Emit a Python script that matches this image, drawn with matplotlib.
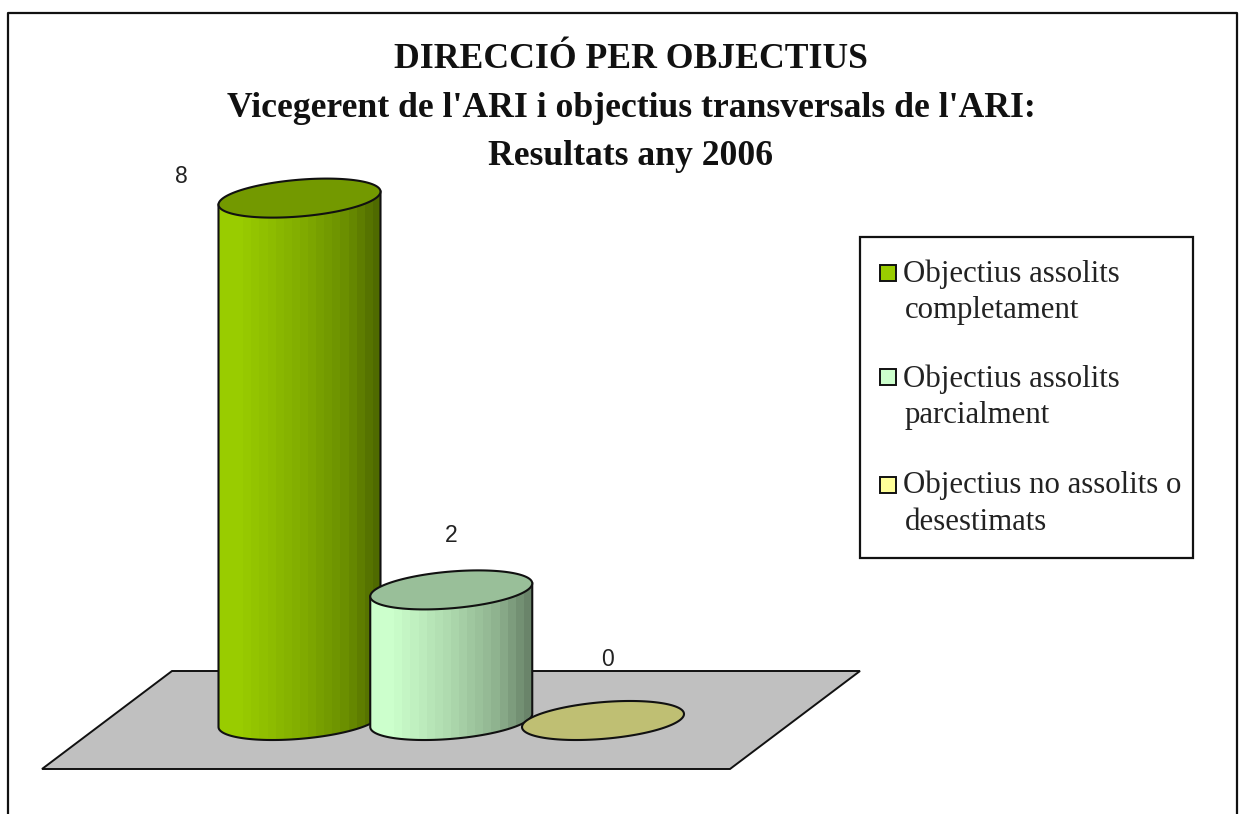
import numpy as np
import matplotlib
matplotlib.use("Agg")
import matplotlib.pyplot as plt
from matplotlib.path import Path
from matplotlib.patches import PathPatch, Polygon, Rectangle

CATEGORIES = [
    "Objectius assolits\ncompletament",
    "Objectius assolits\nparcialment",
    "Objectius no assolits o\ndesestimats",
]
VALUES = [8, 2, 0]
COLORS = ["#99CC00", "#CCFFCC", "#FFFF99"]
TITLE_LINES = [
    "DIRECCIÓ PER OBJECTIUS",
    "Vicegerent de l'ARI i objectius transversals de l'ARI:",
    "Resultats any 2006",
]

W, H = 1239, 814
EDGE = "#111111"

# pixel position of category 0 / value 0, and pixels per unit
X0, DX = 299.5, 151.75
Y0, DY = 720.5, 65.3

# cylinder shape in axis units
RX = 81 / DX
RY = 18.4 / DY
TILT = 6.5 / DY


def ellipse_xy(i, v, t):
    return i + RX * np.cos(t), v + TILT * np.cos(t) + RY * np.sin(t)


def shade_colors(color):
    rgb = np.array(matplotlib.colors.to_rgb(color))
    pos = np.linspace(0, 1, 20)
    factor = np.interp(pos, [0, 0.12, 0.5, 0.8, 1], [1.0, 1.0, 0.85, 0.7, 0.52])
    return (factor[:, None] * rgb)[None, :, :]


def draw_cylinder(ax, i, v, color):
    lower = np.linspace(np.pi, 2 * np.pi, 80)
    xs, ys = ellipse_xy(i, 0, lower)
    x_top, y_top = ellipse_xy(i, v, np.array([2 * np.pi, np.pi]))
    verts = np.column_stack([np.r_[xs, x_top, xs[0]], np.r_[ys, y_top, ys[0]]])
    body = Path(verts, closed=True)

    if v > 0:
        im = ax.imshow(
            shade_colors(color),
            extent=(i - RX, i + RX, -1, v + 1),
            aspect="auto",
            interpolation="nearest",
            zorder=2 + i,
        )
        patch = PathPatch(body, facecolor="none", edgecolor=EDGE, linewidth=1.5, zorder=2 + i)
        ax.add_patch(patch)
        im.set_clip_path(patch)

    t = np.linspace(0, 2 * np.pi, 160)
    ex, ey = ellipse_xy(i, v, t)
    ax.add_patch(
        Polygon(
            np.column_stack([ex, ey]),
            closed=True,
            facecolor=np.array(matplotlib.colors.to_rgb(color)) * 0.75,
            edgecolor=EDGE,
            linewidth=1.5,
            zorder=2 + i,
        )
    )


def main():
    fig = plt.figure(figsize=(W / 100, H / 100), dpi=100, facecolor="white")

    # page axes in pixels: frame, floor, title, legend
    page = fig.add_axes([0, 0, 1, 1])
    page.set_xlim(0, W)
    page.set_ylim(H, 0)
    page.axis("off")

    page.plot([8, 8, 1237, 1237], [H, 13, 13, H], color="#111111", linewidth=1.6)

    page.add_patch(
        Polygon(
            [(42, 769), (730, 769), (860, 671), (172, 671)],
            closed=True,
            facecolor="#C0C0C0",
            edgecolor=EDGE,
            linewidth=1.4,
        )
    )

    title_y = [68, 117, 165]
    for line, y in zip(TITLE_LINES, title_y):
        page.text(
            631, y, line,
            family="Liberation Serif",
            fontweight="bold",
            fontsize=25.7,
            ha="center",
            va="baseline",
            color="#111111",
        )

    # legend
    page.add_patch(
        Rectangle((860, 237), 333, 321, facecolor="white", edgecolor=EDGE, linewidth=1.6)
    )
    box_y = [272.5, 377, 485]
    first_y = [282, 387, 493]
    second_y = [318, 423, 530]
    for name, color, by, y1, y2 in zip(CATEGORIES, COLORS, box_y, first_y, second_y):
        page.add_patch(
            Rectangle((880, by - 8), 16, 16, facecolor=color, edgecolor=EDGE, linewidth=1.4)
        )
        first, second = name.split("\n")
        page.text(903, y1, first, family="Liberation Serif", fontsize=22.2,
                  ha="left", va="baseline", color="#222222")
        page.text(905, y2, second, family="Liberation Serif", fontsize=22.2,
                  ha="left", va="baseline", color="#222222")

    # chart axes: x = category index, y = value
    ax = fig.add_axes([0, 0, 1, 1])
    ax.patch.set_alpha(0)
    ax.axis("off")

    for i, (v, color) in enumerate(zip(VALUES, COLORS)):
        draw_cylinder(ax, i, v, color)

    ax.set_xlim((0 - X0) / DX, (W - X0) / DX)
    ax.set_ylim((Y0 - H) / DY, Y0 / DY)

    # labels sit off the cylinders by hand, like in the original chart
    label_offset = [(-118.5, 22), (0, 54), (5, 61)]
    for i, (v, off) in enumerate(zip(VALUES, label_offset)):
        ax.annotate(
            str(v),
            xy=(i, v),
            xytext=(off[0] * 0.72, off[1] * 0.72),
            textcoords="offset points",
            family="Liberation Sans",
            fontsize=16.5,
            ha="center",
            va="center",
            color="#222222",
            zorder=10,
        )

    fig.savefig("out.png", dpi=100)
    plt.close(fig)


if __name__ == "__main__":
    main()
